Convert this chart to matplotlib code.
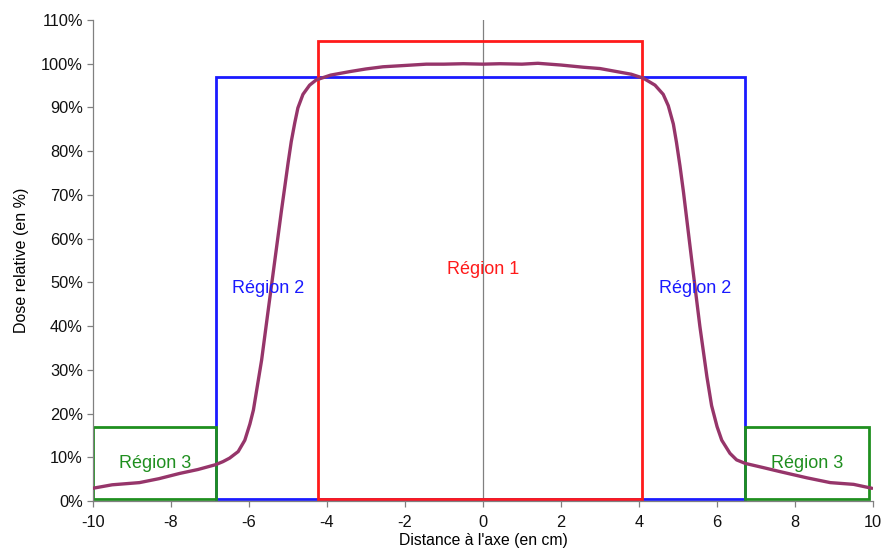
import matplotlib
matplotlib.use("Agg")
import matplotlib.pyplot as plt
from matplotlib.patches import Rectangle
from matplotlib.ticker import FuncFormatter

plt.rcParams['font.family'] = ['Liberation Sans', 'DejaVu Sans']

# Dose profile (x in cm, dose in %)
profile_x = [-10.0, -9.5, -8.8, -8.3, -7.77, -7.3, -6.85, -6.66, -6.49, -6.27, -6.10,
             -5.97, -5.88, -5.67, -5.50, -5.33, -5.16, -5.08, -4.99, -4.91, -4.82,
             -4.74, -4.61, -4.44, -4.27, -3.9, -3.41, -3.0, -2.56, -2.0, -1.45, -1.0,
             -0.5, 0.0, 0.44, 1.0, 1.41, 2.0, 2.57, 3.0, 3.43, 3.8, 4.11, 4.41, 4.62,
             4.75, 4.88, 4.96, 5.05, 5.14, 5.35, 5.56, 5.74, 5.86, 6.0, 6.12, 6.33,
             6.50, 6.72, 7.2, 7.62, 8.3, 8.9, 9.5, 9.97]
profile_y = [2.9, 3.7, 4.2, 5.1, 6.3, 7.2, 8.3, 9.0, 9.8, 11.3, 13.9,
             17.6, 20.8, 32.2, 43.7, 55.1, 66.5, 71.6, 77.4, 82.2, 86.5,
             89.9, 93.0, 95.1, 96.3, 97.4, 98.2, 98.8, 99.3, 99.6, 99.9, 99.9,
             100.0, 99.9, 100.0, 99.9, 100.1, 99.7, 99.2, 98.9, 98.2, 97.6, 96.7, 95.1, 93.0,
             90.4, 86.2, 82.0, 76.6, 70.6, 55.1, 39.9, 28.4, 21.8, 17.0, 13.9, 10.9,
             9.4, 8.6, 7.6, 6.7, 5.3, 4.2, 3.8, 2.9]

# Regions: (x0, x1, y0, y1)
region1 = (-4.23, 4.08, 0.5, 105.3)
region2 = (-6.85, 6.72, 0.5, 97.0)
region3_left = (-10.0, -6.85, 0.5, 17.0)
region3_right = (6.72, 9.9, 0.5, 17.0)

region_labels = ["Région 1", "Région 2", "Région 2", "Région 3", "Région 3"]
label_pos = [(0.0, 53.0), (-5.5, 48.7), (5.45, 48.7), (-8.4, 8.5), (8.3, 8.5)]
label_colors = ["#ff1a1a", "#1a1aff", "#1a1aff", "#1f8f1f", "#1f8f1f"]

xticks = list(range(-10, 11, 2))
yticks = list(range(0, 111, 10))

fig = plt.figure(figsize=(8.82, 5.48), dpi=100)
ax = fig.add_axes([0.105, 0.0858, 0.885, 0.8777])

ax.set_xlim(-10, 10)
ax.set_ylim(0, 110)

# center axis line
ax.axvline(0, color="#808080", lw=0.9, zorder=1)

def rect(r, color):
    x0, x1, y0, y1 = r
    ax.add_patch(Rectangle((x0, y0), x1 - x0, y1 - y0, fill=False,
                           edgecolor=color, lw=2.0, zorder=2))

rect(region2, "#1a1aff")
rect(region3_left, "#1f8f1f")
rect(region3_right, "#1f8f1f")
rect(region1, "#ff1a1a")

ax.plot(profile_x, profile_y, color="#96356a", lw=2.4, zorder=3,
        solid_capstyle="round", solid_joinstyle="round")

for t, (px, py), c in zip(region_labels, label_pos, label_colors):
    ax.text(px, py, t, color=c, fontsize=13, ha="center", va="center", zorder=4)

ax.set_xticks(xticks)
ax.set_yticks(yticks)
ax.xaxis.set_major_formatter(FuncFormatter(lambda v, p: f"{int(v)}".replace("\u2212", "-")))
ax.yaxis.set_major_formatter(FuncFormatter(lambda v, p: f"{int(v)}%"))
ax.tick_params(axis="both", labelsize=11.8, color="#808080", length=4, width=0.9,
               labelcolor="#111111")
ax.tick_params(axis="x", pad=6)
ax.tick_params(axis="y", pad=3)

for s in ["top", "right"]:
    ax.spines[s].set_visible(False)
for s in ["left", "bottom"]:
    ax.spines[s].set_color("#808080")
    ax.spines[s].set_linewidth(0.9)

ax.set_xlabel("Distance à l'axe (en cm)", fontsize=11.3, labelpad=2)
ax.set_ylabel("Dose relative (en %)", fontsize=11.5, labelpad=9)

fig.savefig("out.png", dpi=100)
